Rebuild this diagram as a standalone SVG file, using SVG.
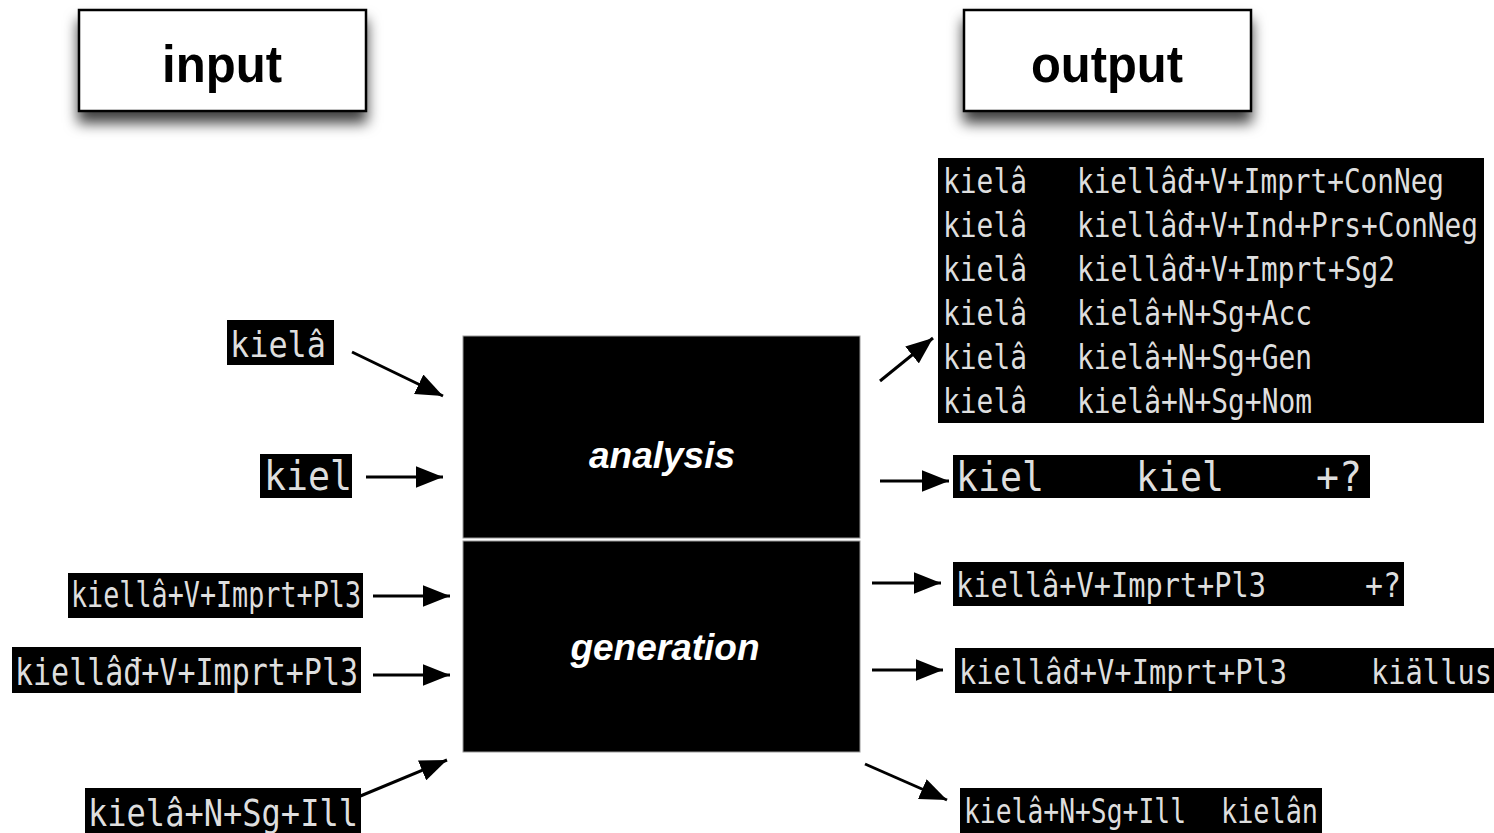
<svg xmlns="http://www.w3.org/2000/svg" width="1494" height="833" viewBox="0 0 1494 833">
<style>
.hdr{fill:#fff;stroke:#000;stroke-width:2.5}
.hdrt{font-family:"Liberation Sans",Arial,sans-serif;font-weight:bold;font-size:52px;fill:#000;text-anchor:middle}
.blk{fill:#000}
.mono{font-family:"DejaVu Sans Mono","Liberation Mono",monospace;fill:#dedede}
.proc{fill:#000;stroke:#999;stroke-width:1}
.proct{font-family:"Liberation Sans",Arial,sans-serif;font-weight:bold;font-style:italic;font-size:37px;fill:#fff;text-anchor:middle}
.arr{stroke:#000;stroke-width:3;fill:none;marker-end:url(#ah)}
</style>
<defs>
<filter id="sh" x="-20%" y="-30%" width="140%" height="190%">
<feDropShadow dx="0" dy="11" stdDeviation="7" flood-color="#000" flood-opacity="0.75"/>
</filter>
<marker id="ah" viewBox="0 0 10 8" refX="10" refY="4" markerWidth="9" markerHeight="7.2" orient="auto" markerUnits="strokeWidth">
<path d="M0,0 L10,4 L0,8 Z" fill="#000"/>
</marker>
</defs>
<rect width="1494" height="833" fill="#fff"/>

<g id="input-header">
<rect class="hdr" x="79" y="10" width="287" height="101" filter="url(#sh)"/>
<text class="hdrt" x="222" y="82" textLength="120" lengthAdjust="spacingAndGlyphs">input</text>
</g>
<g id="output-header">
<rect class="hdr" x="964" y="10" width="287" height="101" filter="url(#sh)"/>
<text class="hdrt" x="1107" y="82" textLength="152" lengthAdjust="spacingAndGlyphs">output</text>
</g>

<g id="analysis">
<rect class="proc" x="463" y="336" width="397" height="202"/>
<text class="proct" x="662" y="468">analysis</text>
</g>
<g id="generation">
<rect class="proc" x="463" y="541" width="397" height="211"/>
<text class="proct" x="665" y="660">generation</text>
</g>

<g id="in-kiela">
<rect class="blk" x="227" y="320" width="107" height="45"/>
<text class="mono" x="230" y="357" font-size="36" textLength="96" lengthAdjust="spacingAndGlyphs">kielâ</text>
</g>
<g id="in-kiel">
<rect class="blk" x="260" y="454" width="92" height="44"/>
<text class="mono" x="264" y="490" font-size="40" textLength="88" lengthAdjust="spacingAndGlyphs">kiel</text>
</g>
<g id="in-kiella-pl3">
<rect class="blk" x="68" y="573" width="295" height="45"/>
<text class="mono" x="71" y="607" font-size="35" textLength="290" lengthAdjust="spacingAndGlyphs">kiellâ+V+Imprt+Pl3</text>
</g>
<g id="in-kielladd-pl3">
<rect class="blk" x="12" y="647" width="349" height="46"/>
<text class="mono" x="15" y="685" font-size="38" textLength="343" lengthAdjust="spacingAndGlyphs">kiellâđ+V+Imprt+Pl3</text>
</g>
<g id="in-kiela-ill">
<rect class="blk" x="85" y="788" width="276" height="45"/>
<text class="mono" x="88" y="826" font-size="38" textLength="270" lengthAdjust="spacingAndGlyphs">kielâ+N+Sg+Ill</text>
</g>

<g id="out-analyses">
<rect class="blk" x="938" y="158" width="546" height="265"/>
<g class="mono" font-size="34">
<text x="943" y="193" textLength="84" lengthAdjust="spacingAndGlyphs">kielâ</text>
<text x="1077" y="193" textLength="367" lengthAdjust="spacingAndGlyphs">kiellâđ+V+Imprt+ConNeg</text>
<text x="943" y="237" textLength="84" lengthAdjust="spacingAndGlyphs">kielâ</text>
<text x="1077" y="237" textLength="401" lengthAdjust="spacingAndGlyphs">kiellâđ+V+Ind+Prs+ConNeg</text>
<text x="943" y="281" textLength="84" lengthAdjust="spacingAndGlyphs">kielâ</text>
<text x="1077" y="281" textLength="318" lengthAdjust="spacingAndGlyphs">kiellâđ+V+Imprt+Sg2</text>
<text x="943" y="325" textLength="84" lengthAdjust="spacingAndGlyphs">kielâ</text>
<text x="1077" y="325" textLength="235" lengthAdjust="spacingAndGlyphs">kielâ+N+Sg+Acc</text>
<text x="943" y="369" textLength="84" lengthAdjust="spacingAndGlyphs">kielâ</text>
<text x="1077" y="369" textLength="235" lengthAdjust="spacingAndGlyphs">kielâ+N+Sg+Gen</text>
<text x="943" y="413" textLength="84" lengthAdjust="spacingAndGlyphs">kielâ</text>
<text x="1077" y="413" textLength="235" lengthAdjust="spacingAndGlyphs">kielâ+N+Sg+Nom</text>
</g>
</g>
<g id="out-kiel">
<rect class="blk" x="953" y="455" width="417" height="43"/>
<text class="mono" x="956" y="491" font-size="40" textLength="88" lengthAdjust="spacingAndGlyphs">kiel</text>
<text class="mono" x="1136" y="491" font-size="40" textLength="88" lengthAdjust="spacingAndGlyphs">kiel</text>
<text class="mono" x="1316" y="491" font-size="40" textLength="46" lengthAdjust="spacingAndGlyphs">+?</text>
</g>
<g id="out-kiella-pl3">
<rect class="blk" x="953" y="562" width="451" height="44"/>
<text class="mono" x="956" y="597" font-size="34" textLength="310" lengthAdjust="spacingAndGlyphs">kiellâ+V+Imprt+Pl3</text>
<text class="mono" x="1365" y="597" font-size="34" textLength="36" lengthAdjust="spacingAndGlyphs">+?</text>
</g>
<g id="out-kielladd-pl3">
<rect class="blk" x="955" y="648" width="539" height="45"/>
<text class="mono" x="959" y="684" font-size="34" textLength="328" lengthAdjust="spacingAndGlyphs">kiellâđ+V+Imprt+Pl3</text>
<text class="mono" x="1371" y="684" font-size="34" textLength="121" lengthAdjust="spacingAndGlyphs">kiällus</text>
</g>
<g id="out-kiela-ill">
<rect class="blk" x="960" y="788" width="362" height="45"/>
<text class="mono" x="964" y="823" font-size="34" textLength="222" lengthAdjust="spacingAndGlyphs">kielâ+N+Sg+Ill</text>
<text class="mono" x="1221" y="823" font-size="34" textLength="97" lengthAdjust="spacingAndGlyphs">kielân</text>
</g>

<g id="connectors">
<line class="arr" x1="352" y1="352" x2="443" y2="396"/>
<line class="arr" x1="366" y1="477" x2="443" y2="477"/>
<line class="arr" x1="373" y1="596" x2="450" y2="596"/>
<line class="arr" x1="373" y1="675" x2="450" y2="675"/>
<line class="arr" x1="358" y1="797" x2="447" y2="760"/>
<line class="arr" x1="880" y1="381" x2="933" y2="338"/>
<line class="arr" x1="880" y1="481" x2="949" y2="481"/>
<line class="arr" x1="872" y1="583" x2="941" y2="583"/>
<line class="arr" x1="872" y1="670" x2="943" y2="670"/>
<line class="arr" x1="865" y1="764" x2="947" y2="800"/>
</g>
</svg>
